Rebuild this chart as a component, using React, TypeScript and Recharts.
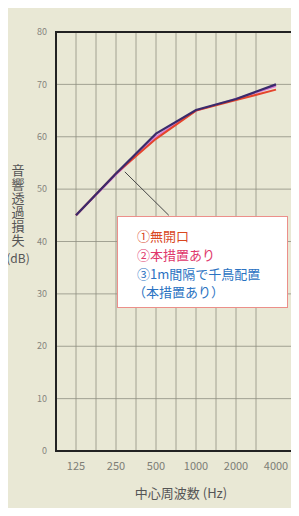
import {
  LineChart, Line, XAxis, YAxis, CartesianGrid, ReferenceArea, ReferenceLine,
} from "recharts";

const FONT = '"Noto Sans CJK JP", "Noto Sans", sans-serif';

// 中心周波数 (Hz)
const FREQS = ["125", "250", "500", "1000", "2000", "4000"];

// 音響透過損失 (dB)
const NO_OPENING = [45, 53, 59.6, 65, 67, 69];
const WITH_MEASURE = [45, 52.8, 60, 65, 67.2, 69.7];
const STAGGERED_1M = [45, 53, 60.6, 65.1, 67.2, 70];

const Y_TICKS = [0, 10, 20, 30, 40, 50, 60, 70, 80];
const GRID_TICKS = [-0.5, 0, 0.5, 1, 1.5, 2, 2.5, 3, 3.5, 4, 4.5, 5, 5.5];

const SERIES = [
  { key: "s1", label: "①無開口", color: "#e5452c", text: "#d9481f", values: NO_OPENING },
  { key: "s2", label: "②本措置あり", color: "#d77ad8", text: "#e0386c", values: WITH_MEASURE },
  { key: "s3", label: "③1m間隔で千鳥配置", sub: "（本措置あり）", color: "#3a2b6c", text: "#2b73c2", values: STAGGERED_1M },
];

// leader from the curve to the legend box
const POINTER = [{ x: 1.22, y: 53.3 }, { x: 2.32, y: 45 }];

const data = FREQS.map((f, i) => ({
  i,
  freq: f,
  s1: NO_OPENING[i],
  s2: WITH_MEASURE[i],
  s3: STAGGERED_1M[i],
}));

function LegendBox() {
  return (
    <div
      style={{
        position: "absolute",
        left: 117,
        top: 216,
        background: "#ffffff",
        border: "1px solid #ec8f8a",
        boxSizing: "border-box",
        width: 171,
        height: 92,
        padding: "9px 0 0 19px",
        fontFamily: FONT,
        fontSize: 13,
        lineHeight: "19px",
      }}
    >
      {SERIES.map((s) => (
        <div key={s.key} style={{ color: s.text }}>
          <div style={{ whiteSpace: "nowrap", height: 19 }}>{s.label}</div>
          {s.sub && <div style={{ whiteSpace: "nowrap", marginLeft: -4, marginTop: -1 }}>{s.sub}</div>}
        </div>
      ))}
    </div>
  );
}

function YTitle() {
  return (
    <g fontFamily={FONT} fill="#555">
      {/* vertical Japanese title, one text element */}
      <text x={18} y={164} fontSize={13} letterSpacing={1} style={{ writingMode: "vertical-rl" }}>
        音響透過損失
      </text>
      <text x={18} y={263} fontSize={12} textAnchor="middle">(dB)</text>
    </g>
  );
}

export default function App() {
  return (
    <div style={{ position: "relative", width: 299, height: 516, background: "#e9e8d5", margin: -8 }}>
      <LineChart
        width={299}
        height={516}
        data={data}
        margin={{ top: 32, right: 3, left: 0, bottom: 0 }}
        style={{ fontFamily: FONT }}
      >
        <XAxis xAxisId="grid" dataKey="i" type="number" domain={[-0.5, 5.5]} ticks={GRID_TICKS} hide />
        <CartesianGrid xAxisId="grid" stroke="#8f8f82" strokeWidth={0.8} />
        <XAxis
          dataKey="i"
          type="number"
          domain={[-0.5, 5.5]}
          ticks={[0, 1, 2, 3, 4, 5]}
          tickFormatter={(v: number) => FREQS[v]}
          height={65}
          tick={{ fill: "#7d7d76", fontSize: 11 }}
          tickLine={false}
          axisLine={false}
          tickSize={0}
          tickMargin={11}
          label={{
            value: "中心周波数 (Hz)",
            position: "insideBottom",
            offset: 18,
            dx: 5,
            fill: "#555",
            fontSize: 13,
          }}
        />
        <YAxis
          domain={[0, 80]}
          ticks={Y_TICKS}
          width={56}
          tick={{ fill: "#85857d", fontSize: 9 }}
          tickLine={false}
          axisLine={false}
          tickSize={0}
          tickMargin={9}
          label={{ content: () => <YTitle /> }}
        />
        <ReferenceArea x1={-0.5} x2={5.5} y1={0} y2={80} fill="none" stroke="#222" strokeWidth={2} ifOverflow="visible" />
        <ReferenceLine segment={POINTER} stroke="#444" strokeWidth={1} ifOverflow="visible" />
        {[SERIES[1], SERIES[0], SERIES[2]].map((s) => (
          <Line
            key={s.key}
            dataKey={s.key}
            stroke={s.color}
            strokeWidth={s.key === "s3" ? 2.2 : 2}
            dot={false}
            activeDot={false}
            isAnimationActive={false}
          />
        ))}
      </LineChart>
      <LegendBox />
    </div>
  );
}
